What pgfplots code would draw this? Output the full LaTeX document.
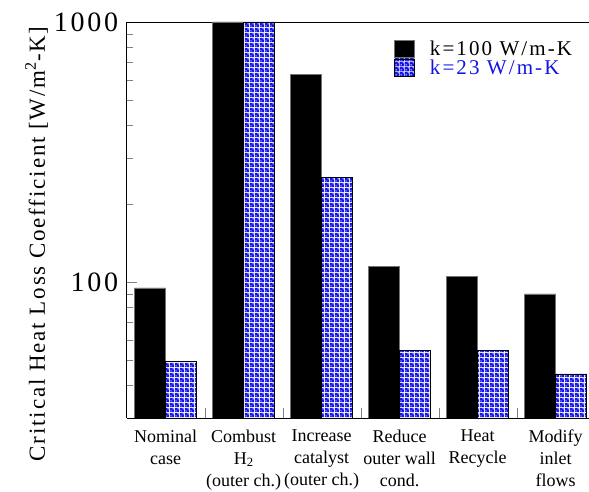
\documentclass[border=0pt]{standalone}
\usepackage{pgfplots}
\pgfplotsset{compat=1.18}
\usepackage{fontspec}
\setmainfont{Liberation Serif}
\newfontfamily\lsTick[LetterSpace=10]{Liberation Serif}
\newfontfamily\lsLeg[LetterSpace=10]{Liberation Serif}
\newfontfamily\lsLab[LetterSpace=8]{Liberation Serif}
\usetikzlibrary{patterns}
\definecolor{myblue}{RGB}{20,20,230}
\pgfdeclarepatternformonly{holes}{\pgfqpoint{0pt}{0pt}}{\pgfqpoint{5pt}{5pt}}{\pgfqpoint{5pt}{5pt}}{%
  \pgfpathrectangle{\pgfqpoint{0pt}{0pt}}{\pgfqpoint{5pt}{5pt}}%
  \pgfpathcircle{\pgfqpoint{1.25pt}{1.25pt}}{0.95pt}%
  \pgfpathcircle{\pgfqpoint{3.75pt}{3.75pt}}{0.95pt}%
  \pgfseteorule\pgfusepath{fill}}
\pgfplotsset{/pgfplots/ybar legend/.style={/pgfplots/legend image code/.code={\draw[##1] (0pt,-8pt) rectangle (20pt,9pt); \path[draw=none,fill=none] (0pt,0pt) -- (34pt,0pt);}}}
\begin{document}
\begin{tikzpicture}
\begin{axis}[
  at={(0,0)}, anchor=south west, scale only axis,
  width=462pt, height=396pt,
  ymode=log, log origin=infty, ymin=30, ymax=1000,
  xmin=-0.5, xmax=5.423,
  ybar=0pt, bar width=31pt,
  axis x line*=box, axis y line*=left,
  tick align=inside,
  xtick pos=bottom, ytick pos=left,
  xtick={0.5,1.5,2.5,3.5,4.5}, xticklabels={},
  extra x ticks={0,1,2,3,4,5},
  extra x tick labels={Nominal\\case, Combust\\H\textsubscript{2}\\(outer ch.), Increase\\catalyst\\(outer ch.), Reduce\\outer wall\\cond., Heat\\Recycle, Modify\\inlet\\flows},
  extra x tick style={major tick length=0pt},
  xticklabel style={font=\fontsize{18}{22}\selectfont, align=center, anchor=north, yshift=-8pt},
  ytick={100,1000}, yticklabels={100,1000},
  minor ytick={40,50,60,70,80,90,200,300,400,500,600,700,800,900},
  major tick length=10pt, minor tick length=6pt,
  /pgf/number format/assume math mode=true,
  yticklabel style={font=\fontsize{28}{28}\lsTick, xshift=-5pt},
  ylabel={Critical Heat Loss Coefficient [W/m\textsuperscript{2}-K]},
  ylabel style={font=\fontsize{23}{23}\lsLab, at={(axis description cs:-0.177,0.44)}, anchor=base},
  legend style={at={(0.572,0.962)}, anchor=north west, draw=none, fill=none,
    font=\fontsize{21}{21}\lsLeg, row sep=0pt, nodes={inner sep=1.5pt}},
  legend cell align=left,
]
\addplot[fill=black, draw=black!55, line width=0.5pt]
  coordinates {(0,95) (1,1000) (2,630) (3,115) (4,105) (5,90)};
\addlegendentry{k=100 W/m-K}
\addplot[pattern=holes, pattern color=myblue, draw=black, line width=0.6pt]
  coordinates {(0,49.5) (1,1000) (2,252) (3,54.5) (4,54.5) (5,44.3)};
\addlegendentry{\textcolor{myblue}{k=23 W/m-K}}
\end{axis}
\pgfresetboundingbox
\useasboundingbox (-126.7pt,-73pt) rectangle (462.3pt,418pt);
\end{tikzpicture}
\end{document}
